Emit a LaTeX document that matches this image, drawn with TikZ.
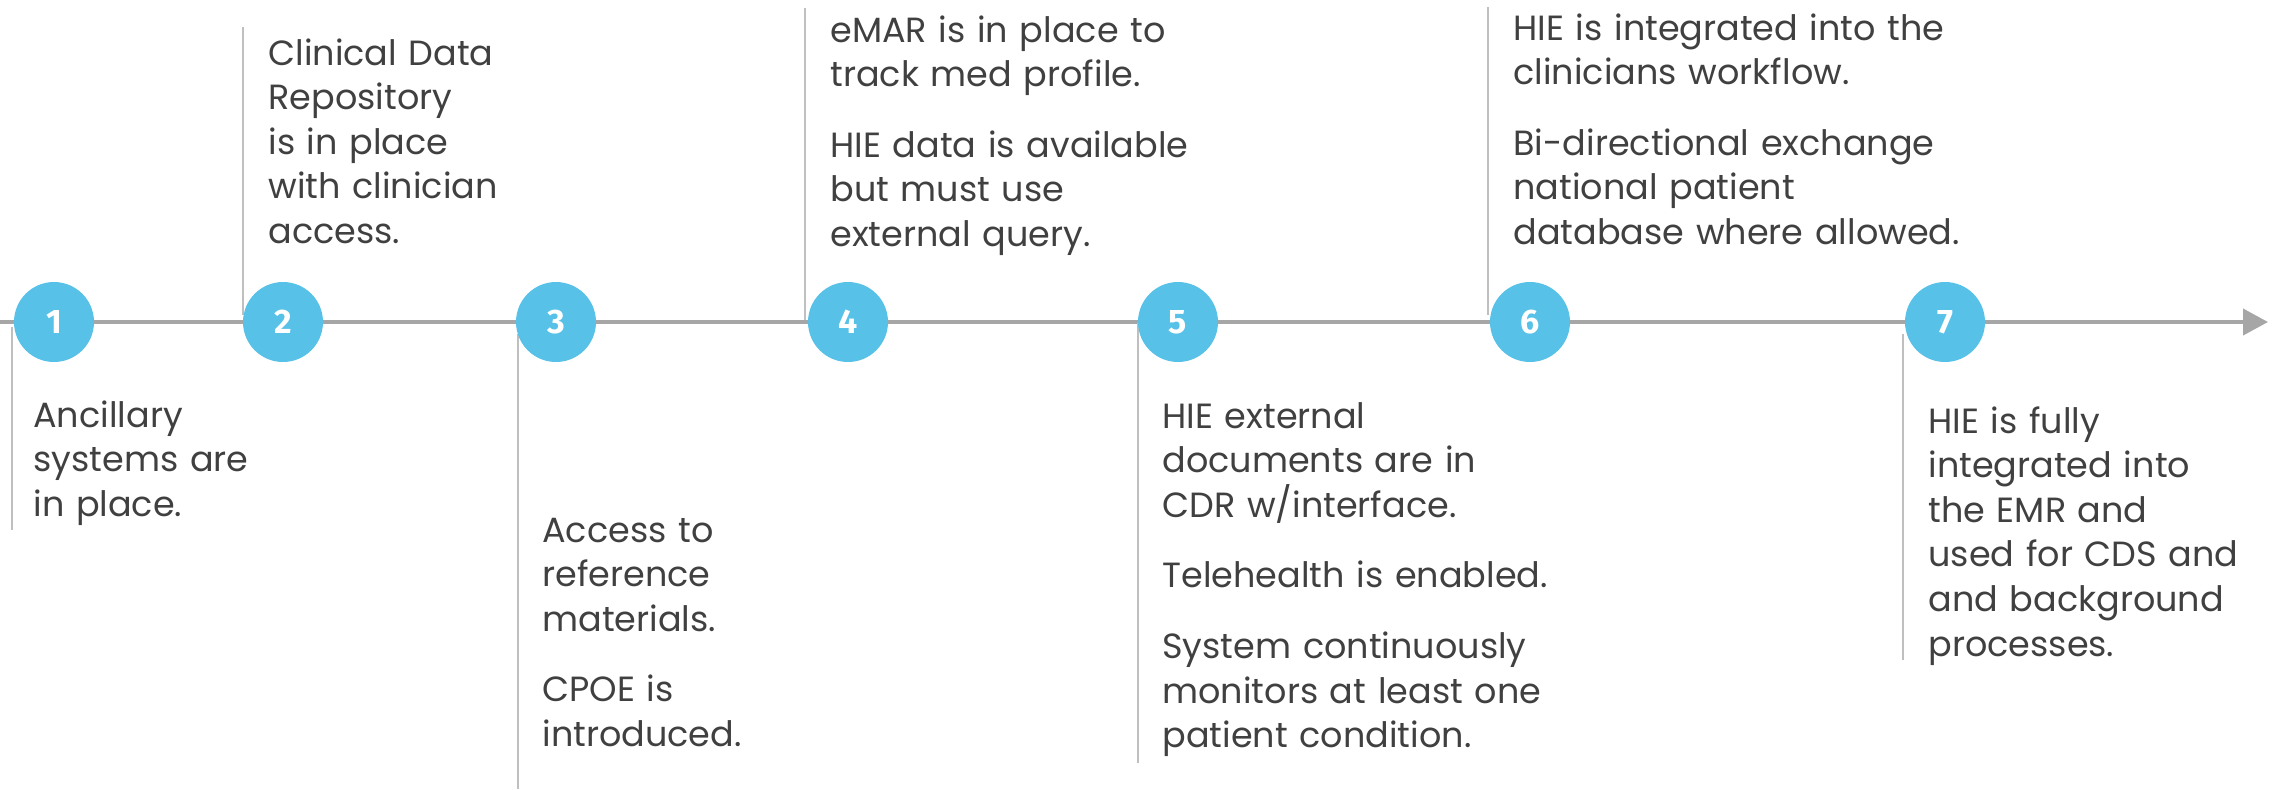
\documentclass[tikz,border=0pt]{standalone}
\usepackage{fontspec}
\setmainfont{Poppins}
\newfontfamily\numfont{Fira Sans}
\usetikzlibrary{arrows.meta}

\definecolor{stepblue}{HTML}{57C1E8}
\definecolor{axisgray}{HTML}{A6A6A6}
\definecolor{stemgray}{HTML}{BFBFBF}
\definecolor{textgray}{HTML}{404040}

\tikzset{
  milestone/.style={circle, fill=stepblue, minimum size=40pt, inner sep=0pt,
    text=white, font=\numfont\bfseries\fontsize{17}{17}\selectfont},
  note/.style={anchor=base west, inner sep=0pt, text width=320pt, align=left,
    text=textgray, font=\fontsize{17.5}{22.3}\selectfont},
  stem/.style={stemgray, line width=0.75pt}
}

\begin{document}
\begin{tikzpicture}[x=0.5pt, y=-0.5pt]
	\useasboundingbox (0,0) rectangle (2277,789);
	
	%time line
	\coordinate (start) at (0,322);
	\coordinate (end) at (2268,322);
	\draw[axisgray, line width=2pt, -{Triangle[length=12.5pt,width=13pt]}] (start) -- (end);
	
	%stems up and down
	\foreach \x/\a/\b in {12/327/530, 243/27/315, 518/334/789, 805/8/320, 1138/323/763, 1488/7/315, 1903/334/660}{
		\draw[stem] (\x,\a) -- (\x,\b);
	}
	
	%numbered steps
	\foreach \n/\x in {1/54, 2/283, 3/556, 4/848, 5/1178, 6/1530, 7/1945}{
		\node[milestone] (m\n) at (\x,322) {\n};
	}
	
	%texts
	\node[note] (n1) at (33,427) {Ancillary\\systems are\\in place.};
	\node[note] (n2) at (268,65) {Clinical Data\\Repository\\is in place\\with clinician\\access.};
	\node[note] (n3) at (542,542) {Access to\\reference\\materials.\\[13pt]CPOE is\\introduced.};
	\node[note] (n4) at (830,42) {eMAR is in place to\\track med profile.\\[13pt]HIE data is available\\but must use\\external query.};
	\node[note] (n5) at (1162,428) {HIE external\\documents are in\\CDR w/interface.\\[13pt]Telehealth is enabled.\\[13pt]System continuously\\monitors at least one\\patient condition.};
	\node[note] (n6) at (1513,40) {HIE is integrated into the\\clinicians workflow.\\[13pt]Bi-directional exchange\\national patient\\database where allowed.};
	\node[note] (n7) at (1928,433) {HIE is fully\\integrated into\\the EMR and\\used for CDS and\\and background\\processes.};
\end{tikzpicture}
\end{document}
